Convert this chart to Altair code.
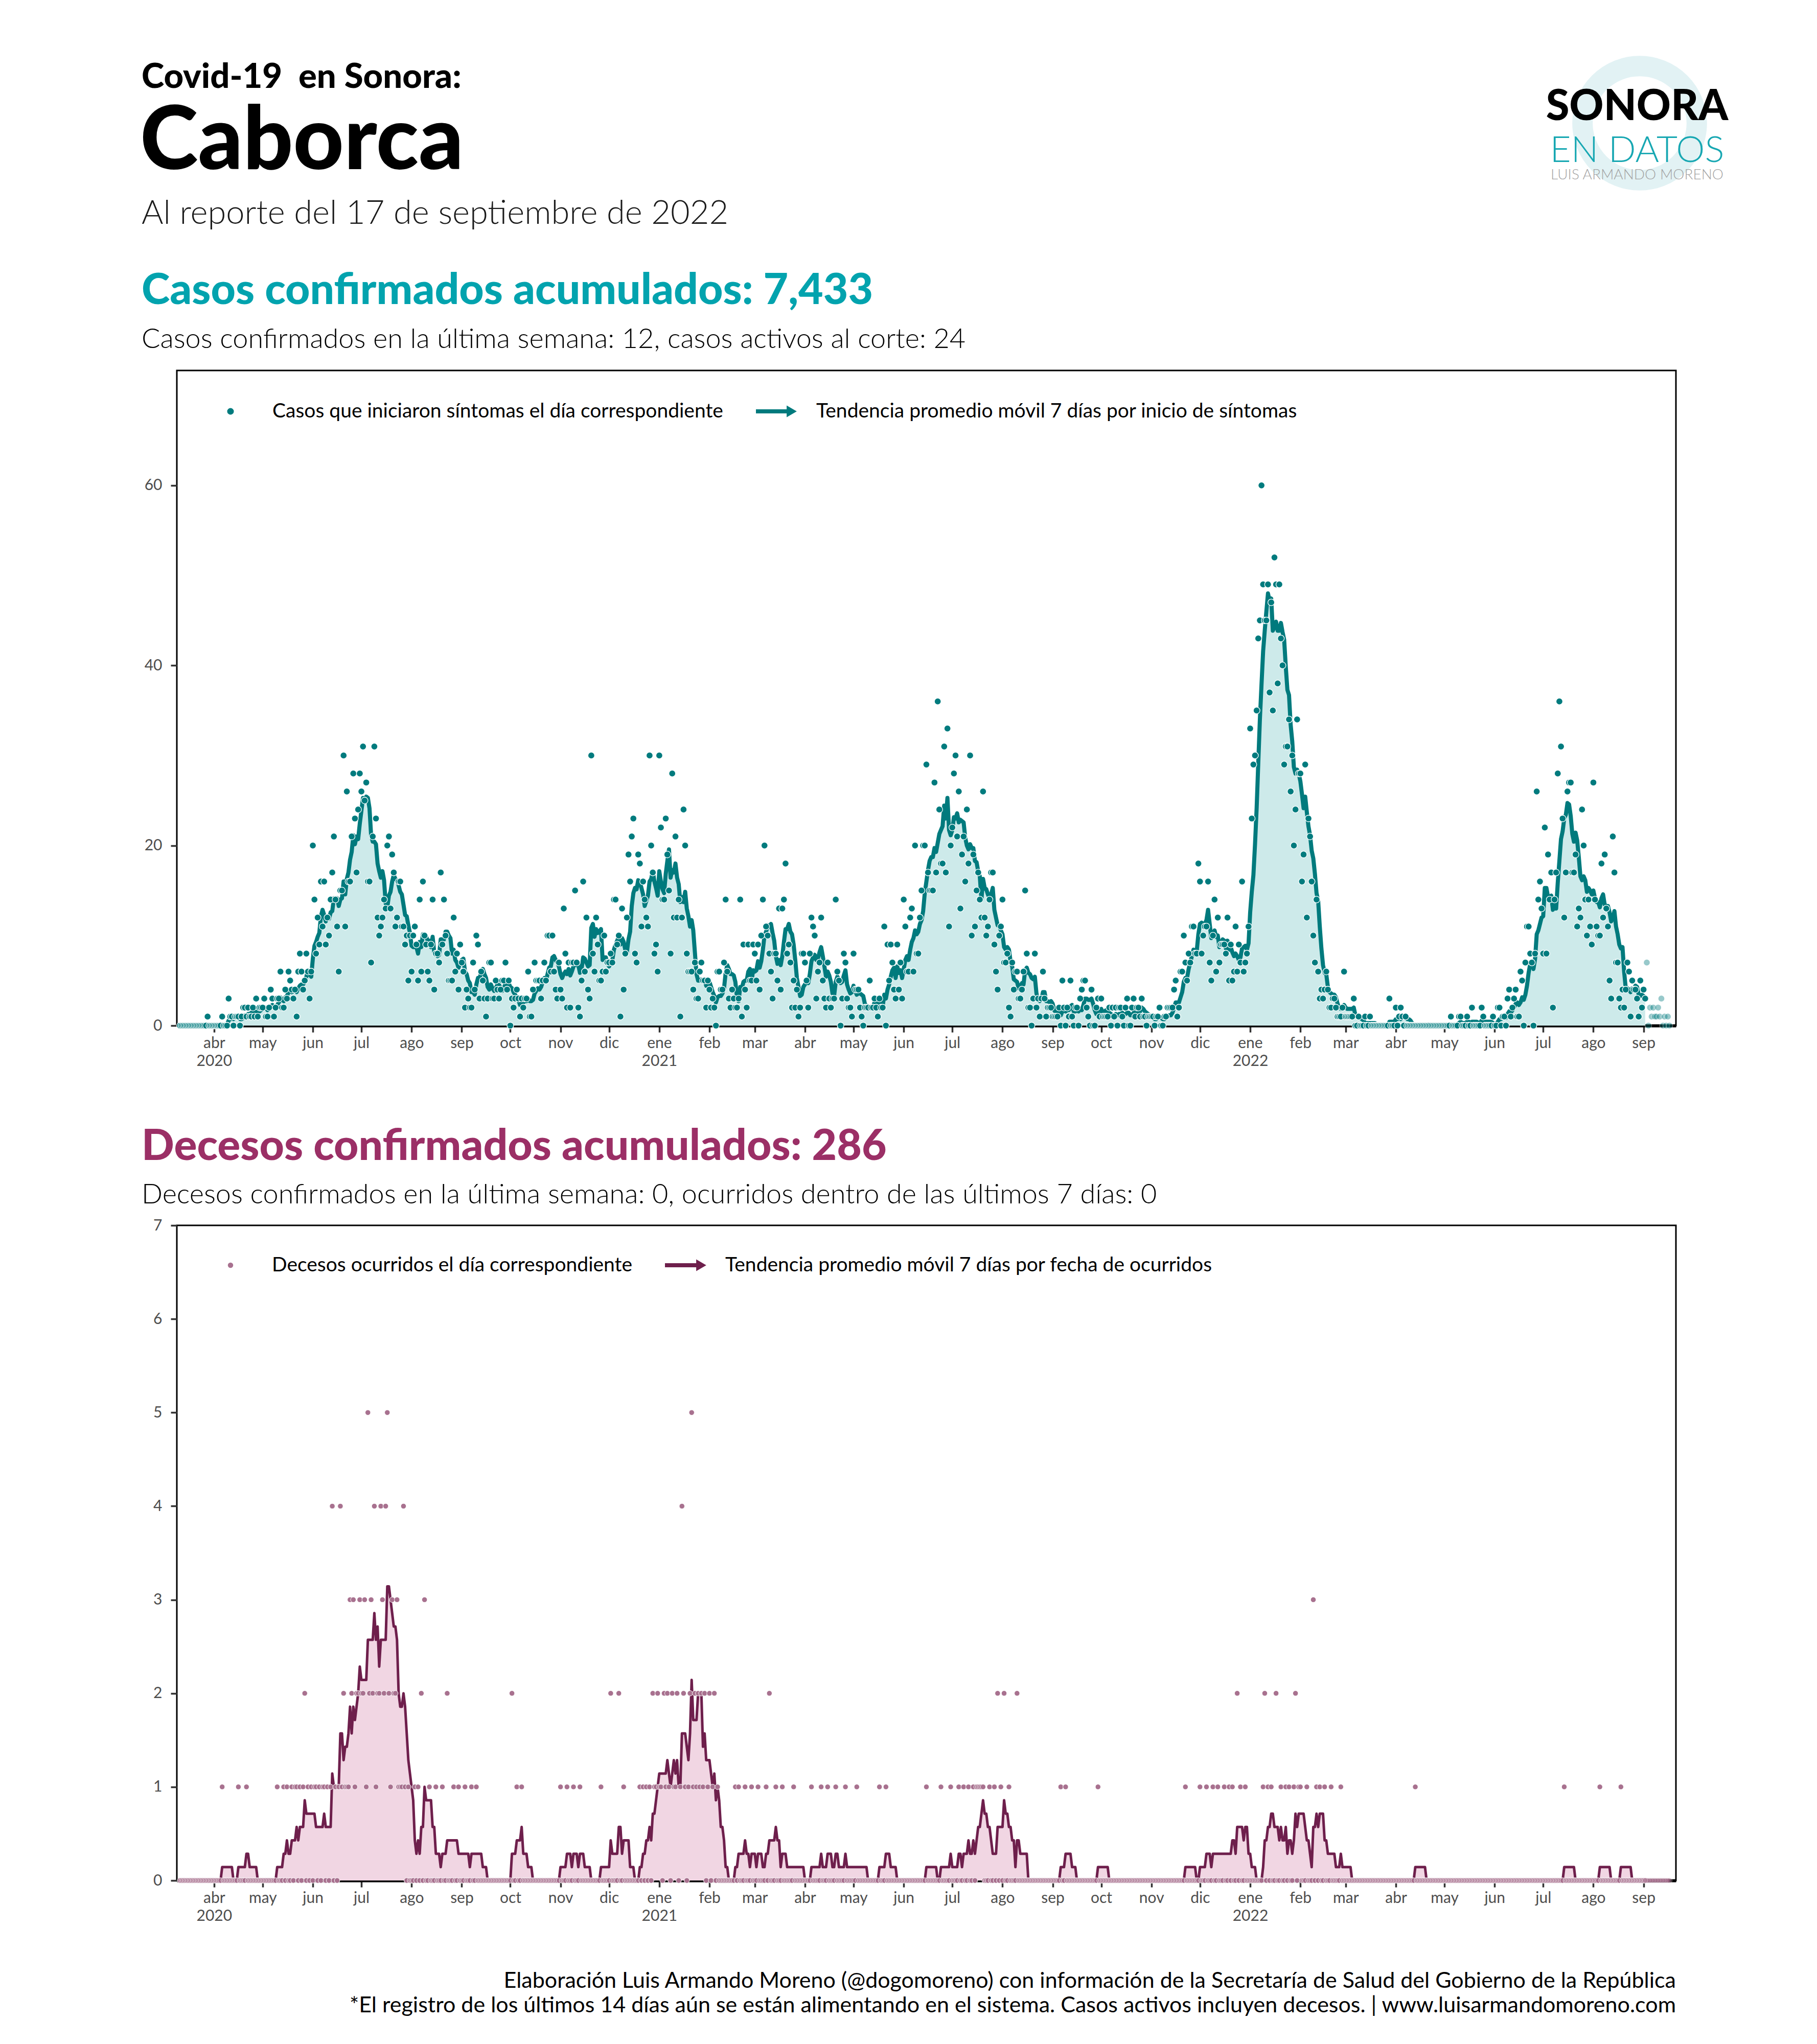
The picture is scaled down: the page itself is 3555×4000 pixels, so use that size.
import altair as alt
import pandas as pd

# ---------------- Casos diarios (por inicio de síntomas) ----------------
c2020_03 = [0,0,0,0,0,0,0,0,0,0,0,0,0,0,0,0,0,1,0,0,0]            # desde el 11
c2020_04 = [0,0,0,0,0,1,0,0,0,3,1,1,0,1,1,1,0,1,2,2,1,2,1,1,2,1,3,1,2,2]
c2020_05 = [2,3,1,1,2,4,3,1,2,3,3,6,2,2,4,3,6,5,4,3,4,1,6,8,6,4,5,8,6,3,6]
c2020_06 = [20,14,8,12,9,16,11,16,9,12,10,14,17,21,14,11,6,15,15,30,11,26,16,16,21,28,23,17,24,28]
c2020_07 = [26,31,25,27,16,16,7,21,31,23,12,10,11,12,14,13,20,21,13,19,17,11,12,16,16,11,11,9,10,5,10]
c2020_08 = [6,10,11,9,5,14,6,16,10,9,6,5,9,14,4,8,8,7,17,9,14,10,8,5,5,5,12,6,8,4,9]
c2020_09 = [7,6,2,4,3,2,2,7,4,10,9,3,6,5,3,1,3,7,7,3,3,5,4,3,4,5,5,7,4,5]
c2020_10 = [0,3,2,3,4,3,1,3,2,3,3,6,1,1,4,7,5,5,5,3,5,7,5,10,10,6,10,6,4,3,7]
c2020_11 = [4,3,13,8,2,7,2,7,7,15,7,2,1,5,16,6,12,4,3,30,8,6,12,9,5,5,6,10,6,7]
c2020_12 = [7,8,7,14,14,9,10,1,13,4,8,12,19,16,21,23,8,7,19,18,11,16,14,12,11,30,20,17,8,9,6]
c2021_01 = [30,22,14,14,23,19,15,8,28,12,21,12,14,1,12,24,20,8,6,6,6,4,7,3,3,6,7,5,5,2,5]
c2021_02 = [4,2,3,2,0,6,6,4,4,7,14,6,3,2,4,3,2,2,3,14,1,9,4,2,9,5,5,9]
c2021_03 = [8,5,9,4,10,14,20,11,10,8,6,3,8,8,5,13,4,13,14,18,8,9,7,2,5,2,4,1,2,8,8]
c2021_04 = [7,5,2,8,12,11,10,3,6,7,12,5,3,2,7,3,2,3,3,14,6,5,0,3,8,7,3,2,2,1]
c2021_05 = [8,4,4,4,2,1,0,2,2,2,5,2,2,3,2,1,3,2,2,11,0,9,5,9,7,4,3,9,4,7,3]
c2021_06 = [14,11,6,6,12,13,6,20,8,8,12,15,20,20,29,17,15,15,15,27,17,36,24,18,18,31,17,33,11,20]
c2021_07 = [22,28,30,21,26,13,19,21,16,24,18,30,10,19,11,15,17,14,12,26,12,10,11,14,17,17,9,6,4,10,11]
c2021_08 = [14,7,7,8,2,1,7,4,6,6,3,3,4,6,15,8,2,2,0,3,8,2,3,1,3,6,3,1,2,2,2]
c2021_09 = [1,1,1,1,2,0,5,2,0,2,1,5,1,0,2,2,0,3,4,5,5,2,1,0,4,0,0,2,3,1]
c2021_10 = [3,1,1,1,1,2,0,2,1,2,0,2,2,1,0,2,3,0,0,2,3,1,2,2,1,3,1,1,0,1,1]
c2021_11 = [1,1,0,1,1,2,0,0,1,1,2,2,2,2,4,5,1,2,6,6,10,7,5,8,7,11,11,8,8,18]
c2021_12 = [16,8,10,11,11,16,7,5,10,14,6,12,7,9,9,9,8,12,5,9,5,6,11,6,9,7,16,6,7,8,11]
c2022_01 = [33,23,29,30,35,43,45,60,49,45,45,49,37,47,35,52,49,38,49,43,40,29,31,31,34,26,30,20,24,34,28]
c2022_02 = [28,16,19,29,12,23,21,16,10,7,14,6,3,4,3,4,6,4,2,2,3,3,2,1,1,1,2,6]
c2022_03 = [1,1,1,1,1,3,0,0,1,0,0,0,1,0,0,1,0,0,0,0,0,0,0,0,0,0,0,3,0,0,0]
c2022_04 = [2,0,1,2,1,0,1,0,0,0,0,0,0,0,0,0,0,0,0,0,0,0,0,0,0,0,0,0,0,0]
c2022_05 = [0,0,0,0,1,0,0,0,0,1,1,0,0,0,1,0,0,2,0,0,0,0,0,2,1,0,0,0,0,0,1]
c2022_06 = [0,0,2,2,0,1,1,0,3,4,1,2,3,4,1,1,6,5,0,7,11,11,8,7,0,8,26,14,16,13]
c2022_07 = [8,22,8,19,14,17,2,14,17,28,36,31,23,12,17,26,27,27,17,17,19,11,13,12,24,20,14,10,14,11,9]
c2022_08 = [27,14,11,10,10,18,12,19,13,11,5,3,21,17,7,7,3,2,4,2,4,7,6,1,5,4,4,3,1,5,2]
c2022_09 = [4,3,7,0,2,1,2,1,1,2,1,3,0,1,0,1,0]                     # hasta el 17

# ---------------- Decesos diarios (por fecha de ocurrencia) ----------------
d2020_03 = [0,0,0,0,0,0,0,0,0,0,0,0,0,0,0,0,0,0,0,0,0]
d2020_04 = [0,0,0,0,0,1,0,0,0,0,0,0,0,0,0,1,0,0,0,0,1,0,0,0,0,0,0,0,0,0]
d2020_05 = [0,0,0,0,0,0,0,0,0,1,0,0,0,1,0,1,0,0,1,0,1,1,0,1,0,1,2,0,1,0,1]
d2020_06 = [0,1,1,0,1,0,1,1,0,1,0,1,4,0,1,0,1,4,1,2,1,1,1,3,2,3,1,2,2,3]
d2020_07 = [2,2,3,1,5,2,3,2,4,1,2,2,4,3,2,4,5,2,1,3,2,2,3,1,1,1,4,1,0,1,0]
d2020_08 = [0,0,1,0,1,0,2,0,3,0,0,1,0,0,0,1,0,0,0,1,0,0,2,0,0,0,1,0,0,1,0]
d2020_09 = [0,0,1,0,0,0,1,0,0,1,0,0,0,0,0,0,0,0,0,0,0,0,0,0,0,0,0,0,0,0]
d2020_10 = [0,2,0,0,1,0,0,1,0,0,0,0,0,0,0,0,0,0,0,0,0,0,0,0,0,0,0,0,0,0,0]
d2020_11 = [1,0,0,0,1,0,0,0,1,0,0,0,1,0,0,0,0,0,0,0,0,0,0,0,0,1,0,0,0,0]
d2020_12 = [0,2,0,0,0,0,2,0,0,1,0,0,0,0,0,0,0,0,0,1,0,1,0,1,0,1,0,2,1,1,2]
d2021_01 = [1,1,0,2,1,2,1,0,2,1,1,2,0,1,4,2,1,0,1,2,5,1,2,1,2,1,2,1,2,0,1]
d2021_02 = [2,0,1,2,0,1,0,0,0,0,0,0,0,0,0,0,1,0,1,0,0,0,1,0,0,0,1,0]
d2021_03 = [0,0,1,0,0,0,0,1,0,2,0,0,0,1,0,0,0,1,0,0,0,0,0,0,1,0,0,0,0,0,0]
d2021_04 = [0,0,0,0,1,0,0,0,0,0,1,0,0,0,1,0,0,0,0,1,0,0,0,0,0,1,0,0,0,0]
d2021_05 = [0,0,1,0,0,0,0,0,0,0,0,0,0,0,0,0,1,0,0,0,1,0,0,0,0,0,0,0,0,0,0]
d2021_06 = [0,0,0,0,0,0,0,0,0,0,0,0,0,0,1,0,0,0,0,0,0,0,0,1,0,0,0,0,0,1]
d2021_07 = [0,0,0,0,1,0,0,1,0,0,1,0,0,1,0,1,1,1,1,1,0,0,0,1,0,0,1,0,2,0,1]
d2021_08 = [0,2,0,0,1,0,0,0,0,2,0,0,0,0,0,0,0,0,0,0,0,0,0,0,0,0,0,0,0,0,0]
d2021_09 = [0,0,0,0,0,1,0,0,1,0,0,0,0,0,0,0,0,0,0,0,0,0,0,0,0,0,0,0,1,0]
d2021_10 = [0,0,0,0,0,0,0,0,0,0,0,0,0,0,0,0,0,0,0,0,0,0,0,0,0,0,0,0,0,0,0]
d2021_11 = [0,0,0,0,0,0,0,0,0,0,0,0,0,0,0,0,0,0,0,0,0,1,0,0,0,0,0,0,0,0]
d2021_12 = [1,0,0,0,1,0,0,0,1,0,0,1,0,0,0,1,0,0,1,0,1,0,0,2,0,1,0,0,1,0,0]
d2022_01 = [0,0,0,0,0,0,0,0,1,2,0,1,0,1,0,0,2,0,0,1,0,0,1,0,1,0,0,1,2,0,1]
d2022_02 = [1,0,0,0,1,0,0,0,3,0,1,0,1,0,0,1,0,0,0,1,0,0,0,0,0,1,0,0]
d2022_03 = [0,0,0,0,0,0,0,0,0,0,0,0,0,0,0,0,0,0,0,0,0,0,0,0,0,0,0,0,0,0,0]
d2022_04 = [0,0,0,0,0,0,0,0,0,0,0,0,1,0,0,0,0,0,0,0,0,0,0,0,0,0,0,0,0,0]
d2022_05 = [0,0,0,0,0,0,0,0,0,0,0,0,0,0,0,0,0,0,0,0,0,0,0,0,0,0,0,0,0,0,0]
d2022_06 = [0,0,0,0,0,0,0,0,0,0,0,0,0,0,0,0,0,0,0,0,0,0,0,0,0,0,0,0,0,0]
d2022_07 = [0,0,0,0,0,0,0,0,0,0,0,0,0,1,0,0,0,0,0,0,0,0,0,0,0,0,0,0,0,0,0]
d2022_08 = [0,0,0,0,1,0,0,0,0,0,0,0,0,0,0,0,0,1,0,0,0,0,0,0,0,0,0,0,0,0,0]
d2022_09 = [0,0,0,0,0,0,0,0,0,0,0,0,0,0,0,0,0]

meses = [(2020, 3), (2020, 4), (2020, 5), (2020, 6), (2020, 7), (2020, 8), (2020, 9),
         (2020, 10), (2020, 11), (2020, 12), (2021, 1), (2021, 2), (2021, 3), (2021, 4),
         (2021, 5), (2021, 6), (2021, 7), (2021, 8), (2021, 9), (2021, 10), (2021, 11),
         (2021, 12), (2022, 1), (2022, 2), (2022, 3), (2022, 4), (2022, 5), (2022, 6),
         (2022, 7), (2022, 8), (2022, 9)]
g = globals()
casos_mes = [g[f"c{y}_{m:02d}"] for y, m in meses]
decesos_mes = [g[f"d{y}_{m:02d}"] for y, m in meses]

inicio_datos = pd.Timestamp(2020, 3, 11)
corte_tendencia = pd.Timestamp(2022, 9, 3)   # últimos 14 días aún en captura


def serie(bloques):
    fechas, vals = [], []
    for (y, m), vs in zip(meses, bloques):
        d0 = inicio_datos if (y, m) == (2020, 3) else pd.Timestamp(y, m, 1)
        for i, v in enumerate(vs):
            f = d0 + pd.Timedelta(days=i)
            assert f.month == m, (y, m, len(vs))
            fechas.append(f)
            vals.append(v)
    return pd.DataFrame({
        "fecha": [f.strftime("%Y-%m-%d") for f in fechas],
        "valor": vals,
        "reciente": [f >= corte_tendencia for f in fechas],
    })


casos_df = serie(casos_mes)
decesos_df = serie(decesos_mes)

# ---------------- Estilo ----------------
W, H = 2933, 1282
TEAL_DOT, TEAL_LINE, TEAL_AREA, TEAL_TITLE = "#007B7E", "#007A7D", "#CDEAEA", "#02A3AE"
MAUVE_DOT, MAROON_LINE, PINK_AREA, MAROON_TITLE = "#A8718F", "#6E1F4C", "#F1D6E3", "#9B2F66"
FONT = "Lato"
XL = -69   # borde izquierdo de los textos respecto al área de trazado

meses_es = "['ene','feb','mar','abr','may','jun','jul','ago','sep','oct','nov','dic']"
label_expr = (
    f"[{meses_es}[utcmonth(datum.value)], "
    "(utcmonth(datum.value) == 0 || (utcyear(datum.value) == 2020 && utcmonth(datum.value) == 3))"
    " ? '' + utcyear(datum.value) : '']"
)

x_scale = alt.Scale(type="utc",
                    domain=[alt.DateTime(year=2020, month=3, date=9, utc=True),
                            alt.DateTime(year=2022, month=9, date=21, utc=True)])
x_axis = alt.Axis(title=None, tickCount={"interval": "month", "step": 1}, labelExpr=label_expr,
                  domain=True, domainColor="black", domainWidth=6, tickSize=13, tickWidth=3.5,
                  tickColor="#333333", labelPadding=6, labelLineHeight=35, labelFlush=False,
                  labelOverlap=False, grid=False)


def y_axis(vals):
    return alt.Axis(title=None, values=vals, format="d", domain=False, tickSize=12, tickWidth=3.5,
                    tickColor="#333333", labelPadding=17, labelFlush=False, grid=False)


def texto(t, x, y, size, weight="normal", color="black", align="left", baseline="alphabetic"):
    return alt.Chart(pd.DataFrame({"t": [t]})).mark_text(
        align=align, baseline=baseline, font=FONT, fontSize=size, fontWeight=weight, color=color
    ).encode(x=alt.value(x), y=alt.value(y), text="t:N")


def panel(df, ymax, yvals, c_dot, c_line, c_area, dot_size, dot_stroke, line_w, cortar):
    base = alt.Chart(df).transform_window(
        ma="mean(valor)", frame=[-6, 0], sort=[alt.SortField("fecha")]
    )
    tend = base.transform_filter("!datum.reciente") if cortar else base
    x = alt.X("fecha:T", scale=x_scale, axis=x_axis)
    y_sc = alt.Scale(domain=[0, ymax], nice=False, zero=True)
    area = tend.mark_area(color=c_area).encode(
        x=x, y=alt.Y("ma:Q", scale=y_sc, axis=y_axis(yvals)))
    linea = tend.mark_line(color=c_line, strokeWidth=line_w, strokeJoin="round").encode(
        x=x, y=alt.Y("ma:Q", scale=y_sc))
    puntos = alt.Chart(df).mark_circle(size=dot_size, fill=c_dot, stroke="white",
                                       strokeWidth=dot_stroke).encode(
        x=x, y=alt.Y("valor:Q", scale=y_sc),
        opacity=alt.condition("datum.reciente", alt.value(0.4), alt.value(1)))
    return area, linea, puntos


def leyenda(y, x_dot, x_t1, t1, x_a0, x_a1, x_t2, t2, c_dot, c_line, dot_size):
    one = pd.DataFrame({"k": [0]})
    dot = alt.Chart(one).mark_circle(size=dot_size, color=c_dot, opacity=1).encode(
        x=alt.value(x_dot), y=alt.value(y))
    shaft = alt.Chart(one).mark_rule(color=c_line, strokeWidth=8).encode(
        x=alt.value(x_a0), x2=alt.value(x_a1 - 14), y=alt.value(y))
    head = alt.Chart(one).mark_point(shape="triangle-right", filled=True, size=520,
                                     color=c_line, opacity=1).encode(
        x=alt.value(x_a1 - 10), y=alt.value(y))
    return [dot, shaft, head,
            texto(t1, x_t1, y, 39, baseline="middle"),
            texto(t2, x_t2, y, 39, baseline="middle")]


# ---------------- Panel de casos ----------------
a1, l1, p1 = panel(casos_df, 72.76, [0, 20, 40, 60], TEAL_DOT, TEAL_LINE, TEAL_AREA, 170, 1.3, 8, True)
one = pd.DataFrame({"k": [0]})
ancla = alt.Chart(one).mark_point(size=4, opacity=0).encode(x=alt.value(-335), y=alt.value(-714))
anillo = alt.Chart(one).mark_point(shape="circle", filled=False, size=50000, strokeWidth=40,
                                   color="#E2F2F4", opacity=1).encode(
    x=alt.value(2862), y=alt.value(-484))

cab = [
    ancla, anillo,
    texto("Covid-19\u00a0 en Sonora:", XL, -553, 67, 900),
    texto("Caborca", XL - 3, -394, 172, 900),
    texto("Al reporte del 17 de septiembre de 2022", XL, -287, 65, 300, "#1a1a1a"),
    texto("Casos confirmados acumulados: 7,433", XL, -130, 84, 900, TEAL_TITLE),
    texto("Casos confirmados en la última semana: 12, casos activos al corte: 24", XL, -44, 54, 300),
    texto("SONORA", 2857, -490, 83, 900, "black", "center"),
    texto("EN DATOS", 2857, -408, 71, 300, "#17A7B2", "center"),
    texto("LUIS ARMANDO MORENO", 2857, -374, 28, 300, "#A3A3A3", "center"),
]
ley1 = leyenda(80, 105, 187, "Casos que iniciaron síntomas el día correspondiente",
               1133, 1213, 1251, "Tendencia promedio móvil 7 días por inicio de síntomas",
               TEAL_DOT, TEAL_LINE, 170)

casos_chart = alt.layer(a1, l1, p1, *cab, *ley1).properties(width=W, height=H)

# ---------------- Panel de decesos ----------------
a2, l2, p2 = panel(decesos_df, 7, [0, 1, 2, 3, 4, 5, 6, 7], MAUVE_DOT, MAROON_LINE, PINK_AREA, 110, 1, 5, False)
cab2 = [
    texto("Decesos confirmados acumulados: 286", XL, -128, 84, 900, MAROON_TITLE),
    texto("Decesos confirmados en la última semana: 0, ocurridos dentro de las últimos 7 días: 0",
          XL, -43, 54, 300),
    texto("Elaboración Luis Armando Moreno (@dogomoreno) con información de la Secretaría de Salud del Gobierno de la República",
          W, 1492, 43, "normal", "black", "right"),
    texto("*El registro de los últimos 14 días aún se están alimentando en el sistema. Casos activos incluyen decesos. | www.luisarmandomoreno.com",
          W, 1540, 43, "normal", "black", "right"),
]
ley2 = leyenda(78, 105, 186, "Decesos ocurridos el día correspondiente",
               955, 1036, 1073, "Tendencia promedio móvil 7 días por fecha de ocurridos",
               MAUVE_DOT, MAROON_LINE, 110)

decesos_chart = alt.layer(a2, l2, p2, *cab2, *ley2).properties(width=W, height=H)

chart = alt.vconcat(casos_chart, decesos_chart, spacing=391, bounds="flush").properties(
    padding=0, background="white"
).configure(font=FONT).configure_view(stroke="black", strokeWidth=3).configure_axis(
    labelFont=FONT, labelFontSize=30, labelColor="#4D4D4D"
)

chart.save("out.html", embed_options={"renderer": "svg", "actions": False})
